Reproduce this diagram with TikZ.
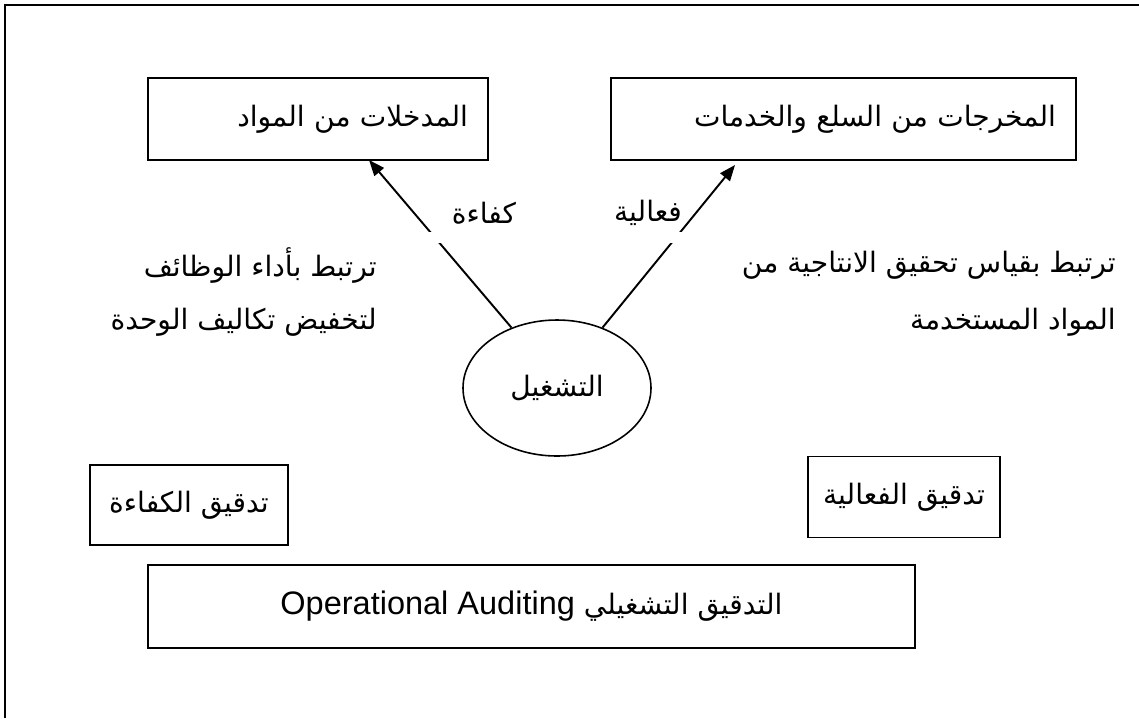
\documentclass[tikz,border=0pt]{standalone}
\usepackage{fontspec}
\setmainfont{Liberation Sans}
\newfontfamily\arabicfont[Script=Arabic]{DejaVu Sans}
\TeXXeTstate=1
\usetikzlibrary{arrows.meta,shapes.geometric}
\newcommand{\ar}[1]{{\arabicfont\beginR #1\endR}}
\begin{document}
\begin{tikzpicture}[x=0.02cm,y=-0.02cm,
  txt/.style={font=\fontsize{16}{19}\selectfont, inner sep=0pt},
  boxnode/.style={draw, line width=1.1pt, font=\fontsize{16}{19}\selectfont, inner sep=0pt},
  conn/.style={line width=1.1pt, -{Triangle[length=9pt,width=7pt]}}]
\useasboundingbox (0,0) rectangle (1139,718);
\fill[white] (0,0) rectangle (1139,718);
% frame (right and bottom edges lie outside the picture)
\draw[line width=1.2pt] (5,718) -- (5,5) -- (1139,5);
% top boxes
\node[boxnode, minimum width=340*0.02cm, minimum height=82*0.02cm, inner xsep=0.4cm, text width=6cm, align=right] (inp) at (318,119) {\ar{المدخلات من المواد}};
\node[boxnode, minimum width=465*0.02cm, minimum height=82*0.02cm, inner xsep=0.4cm, text width=8.5cm, align=right] (outp) at (843.5,119) {\ar{المخرجات من السلع والخدمات}};
% ellipse
\node[draw, ellipse, line width=0.9pt, minimum width=188*0.02cm, minimum height=136*0.02cm, inner sep=0pt, font=\fontsize{16}{19}\selectfont] (op) at (557,388) {\ar{التشغيل}};
% arrow tips
\coordinate (t1) at (369,160);
\coordinate (t2) at (735,165);
\draw[conn] (op.127) -- (t1);
\draw[conn] (op.53) -- (t2);
% gap across the arrows
\fill[white] (400,232) rectangle (720,243);
% arrow labels
\node[txt] (eff) at (484,213) {\ar{كفاءة}};
\node[txt] (effc) at (648,213) {\ar{فعالية}};
% side texts
\node[txt, anchor=east] (l1) at (377,265) {\ar{ترتبط بأداء  الوظائف}};
\node[txt, anchor=east] (l2) at (377,322) {\ar{لتخفيض تكاليف الوحدة}};
\node[txt, anchor=east] (r1) at (1116,265) {\ar{ترتبط بقياس تحقيق الانتاجية من}};
\node[txt, anchor=east] (r2) at (1116,322) {\ar{المواد المستخدمة}};
% audit boxes
\node[boxnode, minimum width=198*0.02cm, minimum height=80*0.02cm] (ea) at (189,505) {\ar{تدقيق الكفاءة}};
\node[boxnode, minimum width=192*0.02cm, minimum height=81*0.02cm] (ca) at (904,497) {\ar{تدقيق الفعالية}};
\node[boxnode, minimum width=767*0.02cm, minimum height=83*0.02cm] (oa) at (531.5,606.5) {\ar{التدقيق التشغيلي \beginL{\rmfamily\fontsize{18.5}{22}\selectfont Operational Auditing}\endL}};
\end{tikzpicture}
\end{document}
